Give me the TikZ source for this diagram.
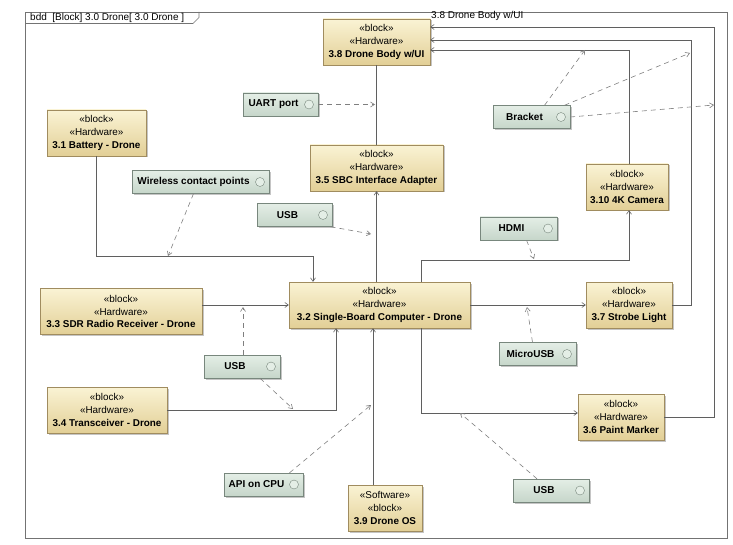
\documentclass[tikz,border=0pt]{standalone}
\usepackage{fontspec}
\setmainfont{Liberation Sans}
\usepackage{tikz}
\usetikzlibrary{arrows.meta,shadows}
\definecolor{blocktop}{RGB}{250,243,212}
\definecolor{blockbot}{RGB}{226,207,150}
\definecolor{blockedge}{RGB}{160,140,95}
\definecolor{ifacetop}{RGB}{228,238,230}
\definecolor{ifacebot}{RGB}{198,214,202}
\definecolor{ifaceedge}{RGB}{120,135,125}
\definecolor{wire}{RGB}{95,95,95}
\tikzset{
  hwblock/.style={draw=blockedge, top color=blocktop, bottom color=blockbot, drop shadow={shadow xshift=1.5pt, shadow yshift=-1.5pt, fill=black!45, opacity=.5}, minimum height=46pt, align=center, inner sep=2pt, font=\fontsize{9.9}{12.8}\selectfont},
  ifacebox/.style={draw=ifaceedge, top color=ifacetop, bottom color=ifacebot, drop shadow={shadow xshift=1.5pt, shadow yshift=-1.5pt, fill=black!45, opacity=.5}, minimum height=23pt, inner sep=2pt, font=\fontsize{10}{11}\selectfont\bfseries, execute at end node=\hspace*{14pt}, path picture={\draw[ifaceedge, fill=ifacetop] ([xshift=-9pt]path picture bounding box.east) circle (4.5pt);}},
  assocline/.style={draw=wire, line width=.6pt},
  navarrow/.style={assocline, -{Straight Barb[length=3.5pt, width=5pt]}},
  depline/.style={draw=wire!80, line width=.6pt, dash pattern=on 5pt off 4pt, -{Straight Barb[length=4pt, width=5pt]}},
  rolelabel/.style={font=\fontsize{10}{11}\selectfont, inner sep=1pt, anchor=west}
}

\begin{document}
\begin{tikzpicture}[x=1pt, y=-1pt]
  \useasboundingbox (0,0) rectangle (733,545);
  \draw[draw=black!55, line width=.6pt] (25,12) rectangle (727,538);
  \draw[draw=black!55, line width=.6pt] (25,23.5) -- (193,23.5) -- (199,17.5) -- (199,12);
  \node[anchor=west, font=\fontsize{10}{11}\selectfont, inner sep=0pt] (frametitle) at (30,17.8) {bdd\ \ [Block] 3.0 Drone[ 3.0 Drone ]};

  \node[hwblock, minimum width=107pt] (body) at (376.5,42) {«block»\\«Hardware»\\\textbf{3.8 Drone Body w/UI}};
  \node[hwblock, minimum width=133pt] (adapter) at (376.5,168) {«block»\\«Hardware»\\\textbf{3.5 SBC Interface Adapter}};
  \node[hwblock, minimum width=99pt] (battery) at (96.5,133) {«block»\\«Hardware»\\\textbf{3.1 Battery - Drone}};
  \node[hwblock, minimum width=162pt] (sdr) at (121,311.5) {«block»\\«Hardware»\\\textbf{3.3 SDR Radio Receiver - Drone}};
  \node[hwblock, minimum width=120pt] (trans) at (107,410) {«block»\\«Hardware»\\\textbf{3.4 Transceiver - Drone}};
  \node[hwblock, minimum width=181pt] (sbc) at (379.5,305) {«block»\\«Hardware»\\\textbf{3.2 Single-Board Computer - Drone}};
  \node[hwblock, minimum width=82pt] (cam) at (627,187) {«block»\\«Hardware»\\\textbf{3.10 4K Camera}};
  \node[hwblock, minimum width=86pt] (strobe) at (629,305) {«block»\\«Hardware»\\\textbf{3.7 Strobe Light}};
  \node[hwblock, minimum width=86pt] (paint) at (621,417) {«block»\\«Hardware»\\\textbf{3.6 Paint Marker}};
  \node[hwblock, minimum width=74pt] (os) at (385,508) {«Software»\\«block»\\\textbf{3.9 Drone OS}};

  \node[ifacebox, minimum width=75pt] (uart) at (280.5,104.5) {UART port};
  \node[ifacebox, minimum width=77pt] (bracket) at (531.5,117) {Bracket};
  \node[ifacebox, minimum width=137pt] (wcp) at (200.5,182) {Wireless contact points};
  \node[ifacebox, minimum width=75pt] (usba) at (294.5,215) {USB};
  \node[ifacebox, minimum width=77pt] (hdmi) at (518.5,228.5) {HDMI};
  \node[ifacebox, minimum width=76pt] (usbb) at (242,366.5) {USB};
  \node[ifacebox, minimum width=77pt] (micro) at (537.5,354) {MicroUSB};
  \node[ifacebox, minimum width=79pt] (api) at (263.5,484.5) {API on CPU};
  \node[ifacebox, minimum width=76pt] (usbc) at (551,490.5) {USB};

  \coordinate (uartend) at (375,104.5);
  \coordinate (usbaend) at (371,234);
  \coordinate (wcpend) at (168,256);
  \coordinate (hdmiend) at (534,259);
  \coordinate (usbbup) at (243,307);
  \coordinate (usbbdown) at (293,409);
  \coordinate (microend) at (527,307);
  \coordinate (apiend) at (371,405);
  \coordinate (usbcend) at (460,413);
  \coordinate (brka) at (585,50);
  \coordinate (brkb) at (690,53);
  \coordinate (brkc) at (714,105);

  \draw[assocline] (body.south) -- (adapter.north);
  \draw[navarrow] (adapter.south |- sbc.north) -- (adapter.south);
  \draw[navarrow] (battery.south) |- (313,256) -- ([xshift=-66.5pt]sbc.north);
  \draw[navarrow] (sdr.east |- sbc.west) -- (sbc.west);
  \draw[navarrow] (trans.east) -| ([xshift=-43.5pt]sbc.south);
  \draw[navarrow] ([xshift=-12pt]os.north) -- ([xshift=-6.5pt]sbc.south);
  \draw[navarrow] (sbc.east) -- (strobe.west);
  \draw[navarrow] ([xshift=41.5pt]sbc.south) |- ([yshift=4pt]paint.west);
  \draw[navarrow] ([xshift=41.5pt]sbc.north) |- (629,260) -- ([xshift=2pt]cam.south);
  \draw[navarrow] (paint.east) -| (714,27) -- ([yshift=15pt]body.east);
  \draw[navarrow] (strobe.east) -| (691,40) -- ([yshift=2pt]body.east);
  \draw[navarrow] ([xshift=2pt]cam.north) |- ([yshift=-8pt]body.east);
  \node[rolelabel] (bodyrole) at (430,16) {3.8 Drone Body w/UI};

  \draw[depline] (uart.east) -- (uartend);
  \draw[depline] ([xshift=36pt]usba.south) -- (usbaend);
  \draw[depline] ([xshift=-7pt]wcp.south) -- (wcpend);
  \draw[depline] ([xshift=8pt]hdmi.south) -- (hdmiend);
  \draw[depline] ([xshift=1pt]usbb.north) -- (usbbup);
  \draw[depline] ([xshift=18pt]usbb.south) -- (usbbdown);
  \draw[depline] ([xshift=-5pt]micro.north) -- (microend);
  \draw[depline] ([xshift=26pt]api.north) -- (apiend);
  \draw[depline] ([xshift=-14pt]usbc.north) -- (usbcend);
  \draw[depline] ([xshift=13pt]bracket.north) -- (brka);
  \draw[depline] ([xshift=33pt]bracket.north) -- (brkb);
  \draw[depline] (bracket.east) -- (brkc);
\end{tikzpicture}
\end{document}
